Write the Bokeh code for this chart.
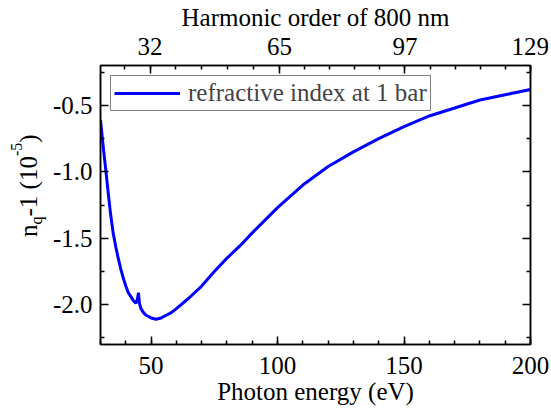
from bokeh.plotting import figure
from bokeh.layouts import row
from bokeh.models import LinearAxis, FixedTicker, Range1d, Div
from bokeh.embed import file_html
from bokeh.resources import INLINE

# ---- data ----
photon_energy_eV = [30, 31, 32, 33, 34, 35, 36, 37, 38, 39, 40, 41, 42, 43, 44,
                    44.6, 45, 45.4, 46, 47, 48, 50, 52, 54, 56, 58, 60, 65, 70,
                    75, 80, 85, 90, 100, 110, 120, 130, 140, 150, 160, 170, 180,
                    190, 200]
n_minus_1 = [-0.61, -0.80, -0.97, -1.15, -1.32, -1.46, -1.56, -1.65, -1.73, -1.80,
             -1.86, -1.91, -1.94, -1.97, -1.99, -1.96, -1.91, -1.99, -2.03, -2.06,
             -2.08, -2.10, -2.11, -2.10, -2.08, -2.06, -2.03, -1.95, -1.86, -1.75,
             -1.65, -1.56, -1.46, -1.27, -1.10, -0.96, -0.85, -0.75, -0.66, -0.58,
             -0.52, -0.46, -0.42, -0.38]

x_ticks = [50, 100, 150, 200]
y_ticks = [-2.0, -1.5, -1.0, -0.5]
y_tick_labels = ["-2.0", "-1.5", "-1.0", "-0.5"]
harmonic_orders = [32, 65, 97, 129]
fundamental_eV = 1.55  # photon energy of 800 nm

# y-axis title: "n" + subscript "q" + "-1 (10" + superscript "-5" + ")"
ytitle_base = "n"
ytitle_sub = "q"
ytitle_mid = "-1 (10"
ytitle_sup = "-5"
ytitle_end = ")"

FONT = "Liberation Serif"
FS = "25px"

X0, X1 = 30, 200
Y0, Y1 = -2.3, -0.2
LEFT_W = 47  # width of the strip that holds the y-axis title

# ---- strip with the composite (rotated) y-axis title ----
html = (
    f'<div style="position:absolute;left:0;top:0;width:{LEFT_W}px;height:410px;'
    'overflow:visible;">'
    '<span style="position:absolute;left:16px;top:237px;transform-origin:0 0;'
    'transform:rotate(-90deg);white-space:nowrap;'
    f"font-family:'{FONT}';font-size:25px;line-height:25px;color:black;\">"
    f'{ytitle_base}<span style="font-size:16px;position:relative;top:5px;">'
    f'{ytitle_sub}</span>{ytitle_mid}'
    '<span style="font-size:16px;position:relative;top:-15px;">'
    f'{ytitle_sup}</span>{ytitle_end}</span></div>'
)
ttl = Div(text=html, width=LEFT_W, height=410, margin=0,
          styles={"position": "relative", "overflow": "visible"})

# ---- main plot ----
p = figure(width=551 - LEFT_W, height=410, x_range=Range1d(X0, X1),
           y_range=Range1d(Y0, Y1), output_backend="svg", toolbar_location=None,
           min_border_left=100 - LEFT_W, min_border_right=21, min_border_top=65,
           min_border_bottom=66)
p.xgrid.visible = False
p.ygrid.visible = False
p.outline_line_color = "black"
p.outline_line_width = 1.5
p.background_fill_color = "white"
p.border_fill_color = "white"

p.line(photon_energy_eV, n_minus_1, line_color="#0000ff", line_width=3,
       legend_label="refractive index at 1 bar")


def style(ax):
    ax.axis_line_color = "black"
    ax.axis_line_width = 1.5
    ax.major_tick_in = 8
    ax.major_tick_out = 0
    ax.minor_tick_in = 4
    ax.minor_tick_out = 0
    ax.major_tick_line_width = 1.5
    ax.minor_tick_line_width = 1.5
    ax.major_label_text_font = FONT
    ax.major_label_text_font_size = FS
    ax.major_label_text_color = "black"
    ax.axis_label_text_font = FONT
    ax.axis_label_text_font_size = FS
    ax.axis_label_text_font_style = "normal"
    ax.axis_label_text_color = "black"


x_minor = list(range(30, 201, 10))
y_minor = [-2.25, -1.75, -1.25, -0.75, -0.25]

xa = p.xaxis[0]
xa.ticker = FixedTicker(ticks=x_ticks, minor_ticks=x_minor)
xa.axis_label = "Photon energy (eV)"
style(xa)
xa.major_label_standoff = 12
xa.axis_label_standoff = 1

ya = p.yaxis[0]
ya.ticker = FixedTicker(ticks=y_ticks, minor_ticks=y_minor)
ya.major_label_overrides = {t: s for t, s in zip(y_ticks, y_tick_labels)}
style(ya)
ya.major_label_standoff = 8

top_ticks = [h * fundamental_eV for h in harmonic_orders]
top_minor = []
for a, b in zip(top_ticks[:-1], top_ticks[1:]):
    top_minor += [a + (b - a) * k / 5 for k in range(5)]
top_minor += [top_ticks[0] - (top_ticks[1] - top_ticks[0]) / 5, top_ticks[-1]]
top = LinearAxis(ticker=FixedTicker(ticks=top_ticks, minor_ticks=top_minor),
                 axis_label="Harmonic order of 800 nm")
top.major_label_overrides = {t: str(h) for t, h in zip(top_ticks, harmonic_orders)}
style(top)
top.major_label_standoff = 11
top.axis_label_standoff = 4
p.add_layout(top, "above")

right = LinearAxis(ticker=FixedTicker(ticks=y_ticks, minor_ticks=y_minor))
style(right)
right.major_label_overrides = {t: "" for t in y_ticks}
p.add_layout(right, "right")

# legend
lg = p.legend[0]
lg.location = "top_left"
lg.label_text_font = FONT
lg.label_text_font_size = FS
lg.border_line_color = "black"
lg.border_line_width = 1.5
lg.padding = 3
lg.margin = 10
lg.glyph_width = 66
lg.glyph_height = 24
lg.label_height = 24
lg.label_standoff = 8
lg.spacing = 0

layout = row(ttl, p, spacing=0)
open("out.html", "w").write(file_html(layout, INLINE))
